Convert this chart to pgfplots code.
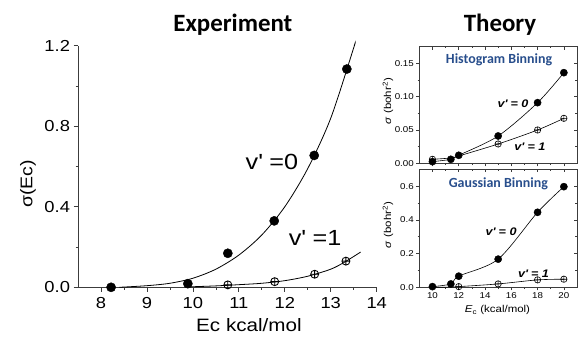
\documentclass[border=0pt]{standalone}
\usepackage{fontspec}
\setmainfont{Liberation Sans}[FakeStretch=1.15]
\newfontfamily\calibri{Carlito}
\usepackage{pgfplots}
\pgfplotsset{compat=1.18}
\usetikzlibrary{plotmarks}
\definecolor{binblue}{RGB}{40,78,140}
\definecolor{axgray}{RGB}{60,60,60}
\begin{document}
\begin{tikzpicture}
\useasboundingbox (0,0) rectangle (578bp,337bp);
% ---------------- Experiment ----------------
\begin{axis}[
  at={(78bp,49.7bp)}, anchor=south west,
  scale only axis, width=298.7bp, height=241.6bp,
  xmin=7.5, xmax=14, ymin=0, ymax=1.2,
  axis x line*=bottom, axis y line*=left,
  axis line style={axgray, line width=0.7bp},
  every tick/.style={axgray, line width=0.7bp},
  tick align=outside,
  major tick length=4.5bp, minor tick length=2.5bp,
  xtick={8,9,...,14}, minor x tick num=1,
  ytick={0,0.4,0.8,1.2}, minor y tick num=1,
  /pgf/number format/assume math mode=true,
  yticklabel style={/pgf/number format/fixed, /pgf/number format/fixed zerofill, /pgf/number format/precision=1},
  tick label style={font=\fontsize{16}{16}\selectfont},
  xticklabel style={yshift=-2bp},
  clip=false,
]
\addplot[black, line width=0.8bp, smooth] coordinates {
 (8.4,0) (9,0.008) (9.5,0.02) (10,0.045) (10.5,0.09) (11,0.16) (11.5,0.26)
 (12,0.4) (12.5,0.59) (13,0.84) (13.5,1.19) (13.51,1.2)};
\addplot[black, line width=0.8bp, smooth] coordinates {
 (9.9,0.002) (10.5,0.007) (11,0.013) (11.5,0.02) (12,0.033) (12.5,0.055)
 (13,0.09) (13.3,0.125) (13.65,0.175)};
\addplot[only marks, mark=*, mark size=4.6bp, black] coordinates {
 (8.22,0.0) (9.89,0.018) (10.76,0.169) (11.77,0.33) (12.64,0.655) (13.35,1.084)};
\addplot[only marks, mark=oplus, mark size=4bp, black, line width=0.85bp, mark options={fill=white}] coordinates {
 (10.76,0.012) (11.78,0.028) (12.65,0.065) (13.33,0.13)};
\node[font=\fontsize{22}{22}\selectfont] at (axis cs:11.72,0.622) {v\textquotesingle\ =0};
\node[font=\fontsize{22}{22}\selectfont] at (axis cs:12.66,0.247) {v\textquotesingle\ =1};
\node[font=\calibri\bfseries\fontsize{25}{25}\selectfont] at (axis cs:10.87,1.303) {Experiment};
\node[font=\fontsize{18}{18}\selectfont, inner sep=1bp] at (axis cs:11.22,-0.19) {Ec kcal/mol};
\node[font=\fontsize{17}{17}\selectfont, rotate=90] at (axis cs:6.41,0.513) {σ(Ec)};
\end{axis}
% ---------------- Theory: histogram ----------------
\begin{axis}[
  at={(419.3bp,173.7bp)}, anchor=south west,
  scale only axis, width=157.7bp, height=116.6bp,
  xmin=9, xmax=21, ymin=0, ymax=0.175,
  axis line style={axgray, line width=0.6bp},
  every tick/.style={axgray, line width=0.5bp},
  tick align=outside, xtick pos=left, ytick pos=left,
  major tick length=3bp, minor tick length=1.8bp,
  xtick={10,12,...,20}, minor x tick num=1, xticklabels={},
  ytick={0,0.05,0.1,0.15}, minor y tick num=1,
  /pgf/number format/assume math mode=true,
  yticklabel style={/pgf/number format/fixed, /pgf/number format/fixed zerofill, /pgf/number format/precision=2, xshift=1bp},
  tick label style={font=\fontsize{8.5}{8.5}\selectfont},
  clip=false,
]
\addplot[black, line width=0.6bp, smooth] coordinates {
 (10,0.0025) (11.4,0.006) (12,0.012) (15,0.041) (18,0.091) (20,0.136)};
\addplot[black, line width=0.6bp, smooth] coordinates {
 (10,0.006) (11.4,0.008) (12,0.011) (15,0.029) (18,0.05) (20,0.0675)};
\addplot[only marks, mark=oplus, mark size=3.2bp, black, line width=0.6bp, mark options={fill=white}] coordinates {
 (10,0.006) (15,0.029) (18,0.05) (20,0.0675)};
\addplot[only marks, mark=*, mark size=3.6bp, black] coordinates {
 (10,0.0025) (11.4,0.006) (12,0.012) (15,0.041) (18,0.091) (20,0.136)};
\node[font=\calibri\bfseries\fontsize{14}{14}\selectfont, text=binblue] at (axis cs:15.07,0.155) {Histogram Binning};
\node[font=\bfseries\itshape\fontsize{11}{11}\selectfont] at (axis cs:16.13,0.089) {v\textquotesingle\ = 0};
\node[font=\bfseries\itshape\fontsize{11}{11}\selectfont] at (axis cs:17.42,0.0245) {v\textquotesingle\ = 1};
\node[font=\calibri\bfseries\fontsize{25}{25}\selectfont] at (axis cs:15.14,0.2076) {Theory};
\node[font=\fontsize{10}{10}\selectfont, rotate=90] at (axis cs:6.62,0.0934) {\textit{σ} (bohr\textsuperscript{2})};
\end{axis}
\begin{axis}[
  at={(419.3bp,173.7bp)}, anchor=south west,
  scale only axis, width=157.7bp, height=116.6bp,
  xmin=9, xmax=21, ymin=0, ymax=0.175,
  axis line style={draw=none},
  every tick/.style={axgray, line width=0.5bp},
  tick align=inside, xtick pos=right, ytick pos=right,
  major tick length=3bp, minor tick length=1.8bp,
  xtick={10,12,...,20}, minor x tick num=1, xticklabels={},
  ytick={0,0.05,0.1,0.15}, minor y tick num=1, yticklabels={},
]
\end{axis}
% ---------------- Theory: gaussian ----------------
\begin{axis}[
  at={(419.3bp,49.7bp)}, anchor=south west,
  scale only axis, width=157.7bp, height=118bp,
  xmin=9, xmax=21, ymin=0, ymax=0.7,
  axis line style={axgray, line width=0.6bp},
  every tick/.style={axgray, line width=0.5bp},
  tick align=outside, xtick pos=left, ytick pos=left,
  major tick length=3bp, minor tick length=1.8bp,
  xtick={10,12,...,20}, minor x tick num=1,
  ytick={0,0.2,0.4,0.6}, minor y tick num=1,
  /pgf/number format/assume math mode=true,
  yticklabel style={/pgf/number format/fixed, /pgf/number format/fixed zerofill, /pgf/number format/precision=1, xshift=1bp},
  tick label style={font=\fontsize{8.5}{8.5}\selectfont},
  xticklabel style={yshift=1bp},
  clip=false,
]
\addplot[black, line width=0.6bp, smooth] coordinates {
 (10,0.004) (11.4,0.02) (12,0.066) (15,0.167) (18,0.445) (20,0.597)};
\addplot[black, line width=0.6bp, smooth] coordinates {
 (10,0.0) (11.4,0.001) (12,0.004) (15,0.02) (18,0.044) (20,0.048)};
\addplot[only marks, mark=oplus, mark size=3.2bp, black, line width=0.6bp, mark options={fill=white}] coordinates {
 (12,0.004) (15,0.02) (18,0.044) (20,0.048)};
\addplot[only marks, mark=*, mark size=3.6bp, black] coordinates {
 (10,0.004) (11.4,0.02) (12,0.066) (15,0.167) (18,0.445) (20,0.597)};
\node[font=\calibri\bfseries\fontsize{14}{14}\selectfont, text=binblue] at (axis cs:15.01,0.613) {Gaussian Binning};
\node[font=\bfseries\itshape\fontsize{11}{11}\selectfont] at (axis cs:15.22,0.328) {v\textquotesingle\ = 0};
\node[font=\bfseries\itshape\fontsize{11}{11}\selectfont] at (axis cs:17.69,0.082) {v\textquotesingle\ = 1};
\node[font=\fontsize{10}{10}\selectfont] at (axis cs:14.95,-0.135) {\textit{E}\textsubscript{c} (kcal/mol)};
\node[font=\fontsize{10}{10}\selectfont, rotate=90] at (axis cs:6.62,0.3695) {\textit{σ} (bohr\textsuperscript{2})};
\end{axis}
\begin{axis}[
  at={(419.3bp,49.7bp)}, anchor=south west,
  scale only axis, width=157.7bp, height=118bp,
  xmin=9, xmax=21, ymin=0, ymax=0.7,
  axis line style={draw=none},
  every tick/.style={axgray, line width=0.5bp},
  tick align=inside, xtick pos=right, ytick pos=right,
  major tick length=3bp, minor tick length=1.8bp,
  xtick={10,12,...,20}, minor x tick num=1, xticklabels={},
  ytick={0,0.2,0.4,0.6}, minor y tick num=1, yticklabels={},
]
\end{axis}
\end{tikzpicture}
\end{document}
